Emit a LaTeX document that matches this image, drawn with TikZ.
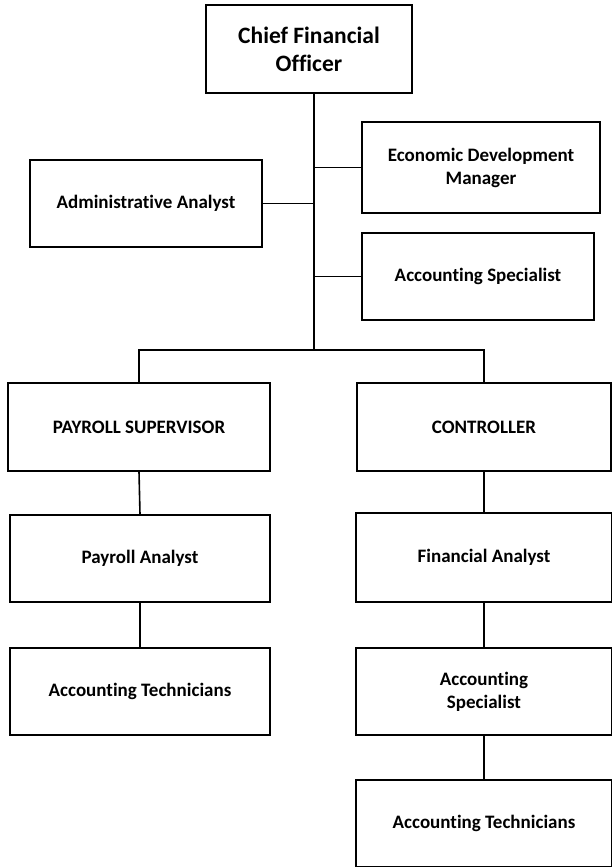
\documentclass[tikz,border=0pt]{standalone}
\usepackage{fontspec}
\setmainfont{Carlito}[Ligatures=NoCommon]
\usepackage{tikz}
\usetikzlibrary{calc}
\tikzset{
	post/.style={draw, line width=1.2pt, align=center, font=\bfseries\fontsize{19}{23}\selectfont, inner sep=0pt},
	link/.style={line width=1.6pt}
}

\begin{document}
\begin{tikzpicture}[x=1pt, y=1pt]
			%%%%% START %%%%%
			\useasboundingbox (0, 0) rectangle (612, -867);
			
			\node[post, line width=2.6pt, font=\bfseries\fontsize{23.5}{28}\selectfont, minimum width=206, minimum height=88] (cfo) at (309, -49) {Chief Financial\\Officer};
			
			\node[post, minimum width=238, minimum height=91] (econ) at (481, -167.5) {Economic Development\\Manager};
			\node[post, minimum width=232, minimum height=87] (admin) at (146, -203.5) {Administrative Analyst};
			\node[post, minimum width=232, minimum height=87] (spec) at (478, -276.5) {Accounting Specialist};
			
			\node[post, minimum width=262, minimum height=88] (paysup) at (139, -427) {PAYROLL SUPERVISOR};
			\node[post, minimum width=254, minimum height=88] (ctrl) at (484, -427) {CONTROLLER};
			
			\node[post, minimum width=260, minimum height=87] (payan) at (140, -558.5) {Payroll Analyst};
			\node[post, minimum width=256, minimum height=89] (finan) at (484, -557.5) {Financial Analyst};
			
			\node[post, minimum width=260, minimum height=87] (tech) at (140, -691.5) {Accounting Technicians};
			\node[post, minimum width=256, minimum height=87] (spec2) at (484, -691.5) {Accounting\\Specialist};
			\node[post, minimum width=256, minimum height=87] (tech2) at (484, -823.5) {Accounting Technicians};
			
			\coordinate (top) at (314, -93);
			\coordinate (bus) at (314, -350);
			
			\draw[link] (top) -- (bus);
			\draw[link] (econ.west) -- (econ.west -| top);
			\draw[link] (admin.east) -- (admin.east -| top);
			\draw[link] (spec.west) -- (spec.west -| top);
			\draw[link] (paysup.north) |- (bus) -| (ctrl.north);
			
			\draw[link] (paysup.south) -- (payan.north);
			\draw[link] (payan.south) -- (tech.north);
			\draw[link] (ctrl.south) -- (finan.north);
			\draw[link] (finan.south) -- (spec2.north);
			\draw[link] (spec2.south) -- (tech2.north);
			
			%%%%% END %%%%%
\end{tikzpicture}
\end{document}
